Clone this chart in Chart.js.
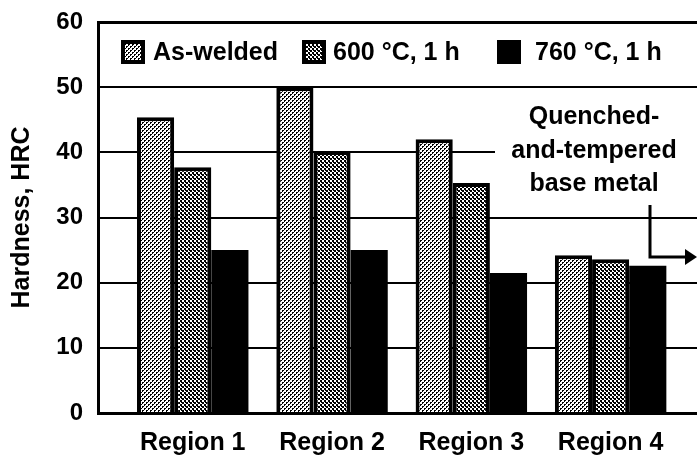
<!DOCTYPE html>
<html>
<head>
<meta charset="utf-8">
<script src="https://cdn.jsdelivr.net/npm/chart.js@4/dist/chart.umd.min.js"></script>
<style>
html,body{margin:0;padding:0;background:#fff;}
#wrap{width:697px;height:455px;}
</style>
</head>
<body>
<div id="wrap"><canvas id="c"></canvas></div>
<script>
const categories = ['Region 1', 'Region 2', 'Region 3', 'Region 4'];
const seriesNames = ['As-welded', '600 °C, 1 h', '760 °C, 1 h'];
const asWelded = [45.4, 50.0, 42.0, 24.2];
const temp600 = [37.7, 40.2, 35.3, 23.6];
const temp760 = [25.0, 25.0, 21.5, 22.6];
const yTicks = [0, 10, 20, 30, 40, 50, 60];
const noteLines = ['Quenched-', 'and-tempered', 'base metal'];

const FONT = '"Liberation Sans", Arial, sans-serif';

// halftone fills
function makePattern(size, cells) {
  const t = document.createElement('canvas');
  t.width = size; t.height = size;
  const g = t.getContext('2d');
  g.fillStyle = '#fff';
  g.fillRect(0, 0, size, size);
  g.fillStyle = '#000';
  cells.forEach(c => g.fillRect(c[0], c[1], c[2], c[3]));
  return g.createPattern(t, 'repeat');
}
const lightDots = makePattern(4, [[0,0,2,1],[0,1,1,1],[2,2,2,1],[2,3,1,1]]);
const darkDots = makePattern(4, [[0,0,2,2],[2,2,2,2],[1,2,1,1]]);
const fills = [lightDots, darkDots, '#000'];

const toPoints = arr => arr.map((v, i) => ({x: i, y: v}));

const overlay = {
  id: 'overlay',
  afterDraw(chart) {
    const {ctx, chartArea: a} = chart;
    ctx.save();
    // legend inside the top band
    const ly = 52;
    const boxX = [a.left + 23, a.left + 204, a.left + 399];
    const textX = [a.left + 55, a.left + 235, a.left + 437];
    ctx.font = 'bold 25px ' + FONT;
    ctx.textBaseline = 'middle';
    ctx.textAlign = 'left';
    seriesNames.forEach((name, i) => {
      ctx.fillStyle = '#000';
      ctx.fillRect(boxX[i], ly - 12, 24, 24);
      ctx.fillStyle = fills[i];
      ctx.fillRect(boxX[i] + 4, ly - 8, 16, 16);
      ctx.fillStyle = '#000';
      ctx.fillText(name, textX[i], ly + 1);
    });
    // base metal note
    ctx.fillStyle = '#fff';
    ctx.fillRect(495, 100, a.right - 495 + 2, 100);
    ctx.fillStyle = '#000';
    ctx.textAlign = 'center';
    const ny = [117, 151, 184];
    noteLines.forEach((s, i) => ctx.fillText(s, 594, ny[i]));
    // arrow
    ctx.strokeStyle = '#000';
    ctx.lineWidth = 3;
    ctx.beginPath();
    ctx.moveTo(650, 205);
    ctx.lineTo(650, 257);
    ctx.lineTo(687, 257);
    ctx.stroke();
    ctx.beginPath();
    ctx.moveTo(685, 249);
    ctx.lineTo(697, 257);
    ctx.lineTo(685, 265);
    ctx.closePath();
    ctx.fill();
    ctx.restore();
  }
};

new Chart(document.getElementById('c'), {
  type: 'bar',
  data: {
    datasets: [
      {label: seriesNames[0], data: toPoints(asWelded), backgroundColor: fills[0], borderColor: '#000', borderWidth: 4, borderSkipped: 'start'},
      {label: seriesNames[1], data: toPoints(temp600), backgroundColor: fills[1], borderColor: '#000', borderWidth: 4, borderSkipped: 'start'},
      {label: seriesNames[2], data: toPoints(temp760), backgroundColor: fills[2], borderColor: '#000', borderWidth: 0}
    ]
  },
  options: {
    responsive: true,
    maintainAspectRatio: false,
    animation: false,
    events: [],
    layout: {padding: {top: 22, right: 0, bottom: 0, left: 0}},
    datasets: {bar: {categoryPercentage: 0.8, barPercentage: 1.0}},
    plugins: {legend: {display: false}, tooltip: {enabled: false}},
    scales: {
      x: {
        type: 'linear',
        offset: false,
        min: -0.68,
        max: 3.62,
        afterBuildTicks: s => { s.ticks = categories.map((c, i) => ({value: i})); },
        afterFit: s => { s.height = 42; s.paddingLeft = 0; s.paddingRight = 0; },
        grid: {display: false, offset: false, drawTicks: false},
        border: {display: true, color: '#000', width: 3},
        ticks: {
          color: '#000',
          padding: 15,
          maxRotation: 0,
          font: {family: FONT, size: 25, weight: 'bold'},
          callback: v => categories[v]
        }
      },
      y: {
        min: 0,
        max: 60,
        z: 1,
        afterBuildTicks: s => { s.ticks = yTicks.map(v => ({value: v})); },
        afterFit: s => { s.width = 98; s.paddingTop = 0; s.paddingBottom = 0; },
        grid: {
          color: '#000',
          lineWidth: c => (c.tick && c.tick.value === 60 ? 3 : 2),
          drawTicks: false
        },
        border: {display: true, color: '#000', width: 3},
        ticks: {
          color: '#000',
          padding: 15,
          font: {family: FONT, size: 24, weight: 'bold'}
        },
        title: {
          display: true,
          text: 'Hardness, HRC',
          color: '#000',
          padding: {top: 7, bottom: 0},
          font: {family: FONT, size: 25, weight: 'bold'}
        }
      }
    }
  },
  plugins: [overlay]
});
</script>
</body>
</html>
